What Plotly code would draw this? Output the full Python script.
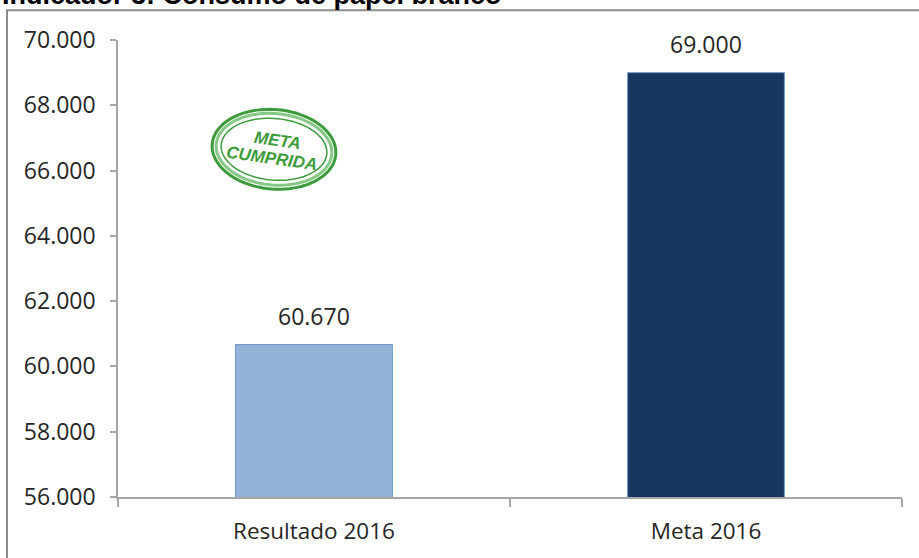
import numpy as np
import plotly.graph_objects as go

categories = ["Resultado 2016", "Meta 2016"]
values = [60670, 69000]
value_labels = ["60.670", "69.000"]
bar_colors = ["#95B3D7", "#17375E"]
y_ticks = [56000, 58000, 60000, 62000, 64000, 66000, 68000, 70000]
y_tick_labels = ["56.000", "58.000", "60.000", "62.000", "64.000", "66.000", "68.000", "70.000"]
title_text = "Indicador 3: Consumo de papel branco"
stamp_lines = ["META", "CUMPRIDA"]

W, H = 919, 558
L, R, T, B = 118, 17, 40, 58
PW, PH = W - L - R, H - T - B

def px2paper(x, y):
    return (x - L) / PW, (H - B - y) / PH

fig = go.Figure()
fig.add_trace(go.Bar(
    x=categories, y=values, width=0.4,
    marker=dict(color=bar_colors, line=dict(color="#6F96C8", width=1)),
    hoverinfo="skip", showlegend=False,
))

for c, v, t in zip(categories, values, value_labels):
    fig.add_annotation(x=c, y=v, text=t, showarrow=False, xanchor="center", yanchor="bottom", yshift=11,
                       font=dict(family="Open Sans", size=23, color="#262626"))

# stamp (decoration)
def ellipse_path(cx, cy, a, b, ang, n=90):
    th = np.linspace(0, 2 * np.pi, n)
    ca, sa = np.cos(np.radians(ang)), np.sin(np.radians(ang))
    pts = []
    for t in th:
        x = a * np.cos(t); y = b * np.sin(t)
        xr = cx + x * ca - y * sa
        yr = cy + x * sa + y * ca
        pts.append(px2paper(xr, yr))
    return "M " + " L ".join(f"{p[0]:.5f},{p[1]:.5f}" for p in pts) + " Z"

green = "#3C9C3C"
fig.add_shape(type="path", xref="paper", yref="paper", path=ellipse_path(274, 150, 62, 40, 5),
              line=dict(color=green, width=3), layer="above")
fig.add_shape(type="path", xref="paper", yref="paper", path=ellipse_path(274, 150, 58, 36, 5),
              line=dict(color="#86C886", width=3), layer="above")
fig.add_shape(type="path", xref="paper", yref="paper", path=ellipse_path(274, 150, 53, 31, 5),
              line=dict(color=green, width=1.5), layer="above")
for line_text, (cx, cy) in zip(stamp_lines, [(277, 141), (272, 159)]):
    sx, sy = px2paper(cx, cy)
    fig.add_annotation(xref="paper", yref="paper", x=sx, y=sy, text=f"<b><i>{line_text}</i></b>",
                       showarrow=False, xanchor="center", yanchor="middle", textangle=8,
                       font=dict(family="Liberation Sans", size=17, color=green))

# outer border box
x0, y0 = px2paper(7, 10)
x1, y1 = px2paper(940, 580)
fig.add_shape(type="rect", xref="paper", yref="paper", x0=x0, y0=y1, x1=x1, y1=y0,
              line=dict(color="#8C8C8C", width=2), fillcolor="rgba(0,0,0,0)", layer="above")

# title (cropped at top, as in the reference)
tx, ty = px2paper(0, 5)
fig.add_annotation(xref="paper", yref="paper", x=tx, y=ty, text=f"<b>{title_text}</b>",
                   showarrow=False, xanchor="left", yanchor="bottom", yshift=-7,
                   font=dict(family="Liberation Sans", size=27, color="#000000"))

fig.update_layout(
    width=W, height=H,
    margin=dict(l=L, r=R, t=T, b=B),
    paper_bgcolor="white", plot_bgcolor="white",
    font=dict(family="Open Sans", color="#262626"),
)
fig.update_xaxes(
    type="category", showline=True, linecolor="#A6A6A6", linewidth=1.5,
    ticks="outside", tickson="boundaries", ticklen=8, tickcolor="#A6A6A6", tickwidth=1.5,
    tickfont=dict(family="Open Sans", size=22.5, color="#262626"),
    showgrid=False, zeroline=False, ticklabelstandoff=13,
)
fig.update_yaxes(
    range=[56000, 70000], showline=True, linecolor="#A6A6A6", linewidth=1.5,
    tickmode="array", tickvals=y_ticks, ticktext=y_tick_labels,
    ticks="outside", ticklen=6, tickcolor="#A6A6A6", tickwidth=1.5,
    tickfont=dict(family="Open Sans", size=23, color="#262626"),
    showgrid=False, zeroline=False, ticklabelstandoff=10,
)

fig.write_html("out.html", config={"displayModeBar": False},
               post_script="document.body.style.margin='0';document.body.style.overflow='hidden';")
